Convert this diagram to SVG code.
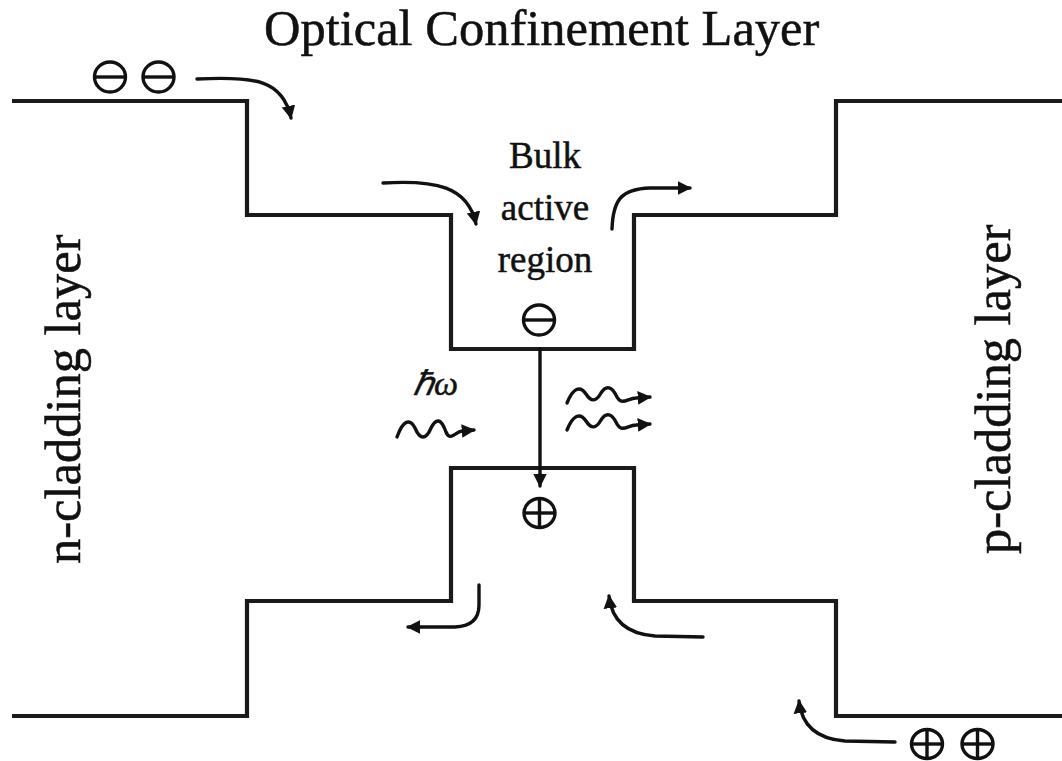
<svg xmlns="http://www.w3.org/2000/svg" width="1062" height="761" viewBox="0 0 1062 761">
<defs>
<style>
.band{fill:none;stroke:#1a1a1a;stroke-width:4.2;stroke-linejoin:miter}
.arr{fill:none;stroke:#111;stroke-width:3.4;stroke-linecap:round}
.wave{fill:none;stroke:#111;stroke-width:3.4;stroke-linecap:round;stroke-linejoin:round}
.sym{fill:none;stroke:#111;stroke-width:3.4}
.lbl{font-family:"Liberation Serif","Times New Roman",serif;fill:#111;stroke:#111;stroke-width:0.5}
</style>
<marker id="ah" viewBox="0 0 10 10" refX="9" refY="5" markerWidth="4" markerHeight="4" markerUnits="strokeWidth" orient="auto">
<path d="M0,0 L10,5 L0,10 Z" fill="#111"/>
</marker>
<g id="minus"><ellipse cx="0" cy="0" rx="15.5" ry="15" class="sym"/><line x1="-15.5" y1="0" x2="15.5" y2="0" class="sym"/></g>
<g id="plus"><ellipse cx="0" cy="0" rx="15.5" ry="14.5" class="sym"/><line x1="-15.5" y1="0" x2="15.5" y2="0" class="sym"/><line x1="0" y1="-14.5" x2="0" y2="14.5" class="sym"/></g>
</defs>
<rect width="1062" height="761" fill="#fff"/>

<g id="title"><text class="lbl" x="264" y="45" font-size="50.5">Optical Confinement Layer</text></g>

<g id="conduction-band"><path class="band" d="M12,101 H247 V215 H451 V349 H634 V215 H836 V101 H1062"/></g>
<g id="valence-band"><path class="band" d="M12,716 H247 V601 H451 V468 H634 V601 H836 V716 H1062"/></g>

<g id="n-cladding"><text class="lbl" font-size="50.5" transform="translate(80,564) rotate(-90)">n-cladding layer</text></g>
<g id="p-cladding"><text class="lbl" font-size="50.5" transform="translate(1010,554) rotate(-90)">p-cladding layer</text></g>

<g id="active-region">
<text class="lbl" font-size="37" text-anchor="middle" x="545" y="168">Bulk</text>
<text class="lbl" font-size="37" text-anchor="middle" x="545" y="220">active</text>
<text class="lbl" font-size="37" text-anchor="middle" x="545" y="272">region</text>
</g>

<g id="electrons-top"><use href="#minus" x="110" y="77"/><use href="#minus" x="158.5" y="77"/></g>
<g id="electron-well"><use href="#minus" x="539" y="320"/></g>
<g id="hole-well"><use href="#plus" x="539.5" y="513"/></g>
<g id="holes-bottom"><use href="#plus" x="927" y="744"/><use href="#plus" x="977.5" y="744"/></g>

<g id="photon-in">
<text class="lbl" font-size="34" font-style="italic" x="413" y="395">ℏω</text>
<path class="wave" d="M397,437 C403,420 410,418 415,428 C420,440 426,440 431,428 C436,418 441,418 446,432 C450,442 455,432 462,431 L474,430" marker-end="url(#ah)"/>
</g>
<g id="photons-out">
<path class="wave" d="M567,403 C573,388 580,385 586,394 C591,402 596,402 601,393 C606,385 612,386 617,397 C622,406 628,398 636,398 L650,397" marker-end="url(#ah)"/>
<path class="wave" d="M567,430 C573,415 580,412 586,421 C591,429 596,429 601,420 C606,412 612,413 617,424 C622,433 628,425 636,425 L650,424" marker-end="url(#ah)"/>
</g>

<g id="connectors">
<path class="arr" d="M197,79 C255,76 283,80 291,118" marker-end="url(#ah)"/>
<path class="arr" d="M383,183 C435,180 468,186 476,224" marker-end="url(#ah)"/>
<path class="arr" d="M612,229 C613,200 621,189 650,188 L690,188" marker-end="url(#ah)"/>
<path class="arr" d="M540,349 L540,486" marker-end="url(#ah)"/>
<path class="arr" d="M479,585 L479,605 Q479,626 455,627 L408,627" marker-end="url(#ah)"/>
<path class="arr" d="M703,637 L655,636 Q613,633 609,596" marker-end="url(#ah)"/>
<path class="arr" d="M895,742 L845,741 Q803,738 799,701" marker-end="url(#ah)"/>
</g>
</svg>
